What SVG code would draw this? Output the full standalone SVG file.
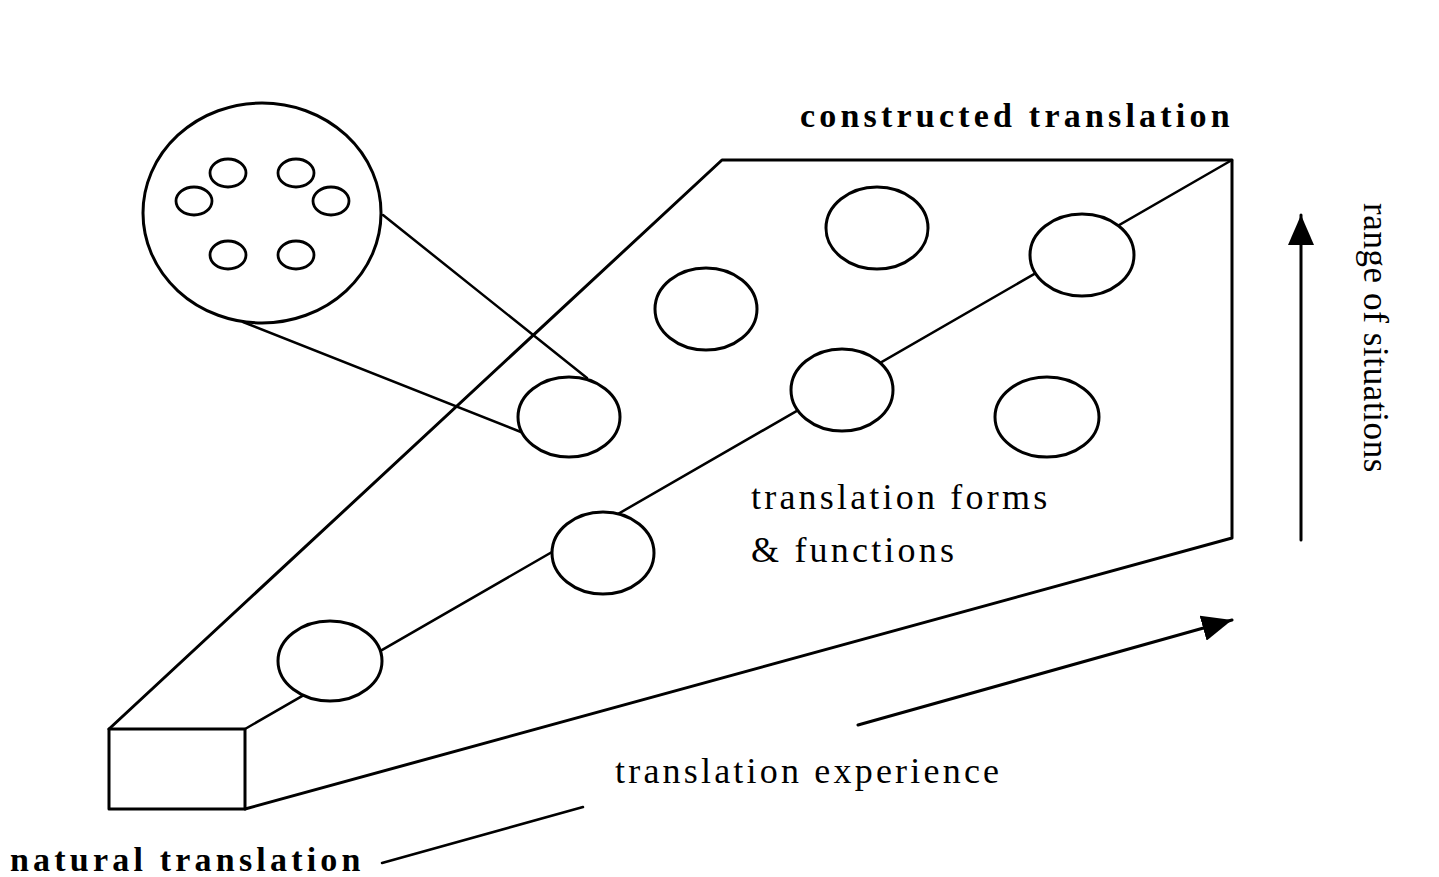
<svg xmlns="http://www.w3.org/2000/svg" width="1439" height="877" viewBox="0 0 1439 877">
  <style>
    .ln { fill: none; stroke: #000; stroke-width: 3; stroke-linecap: round; stroke-linejoin: round; }
    .thin { fill: none; stroke: #000; stroke-width: 2.5; stroke-linecap: round; }
    .node { fill: #fff; stroke: #000; stroke-width: 3; }
    .dot { fill: #fff; stroke: #000; stroke-width: 2.8; }
    .bold { font-family: "Liberation Serif", "Times New Roman", serif; font-weight: bold; font-size: 34px; letter-spacing: 4.2px; fill: #000; }
    .reg { font-family: "Liberation Serif", "Times New Roman", serif; font-size: 36px; letter-spacing: 3.2px; fill: #000; }
    .vert { font-family: "Liberation Serif", "Times New Roman", serif; font-size: 35px; letter-spacing: 0.6px; fill: #000; }
  </style>
  <defs>
    <marker id="arrow" viewBox="0 0 30 26" refX="30" refY="13" markerWidth="30" markerHeight="26" markerUnits="userSpaceOnUse" orient="auto">
      <path d="M0,0 L30,13 L0,26 Z" fill="#000"/>
    </marker>
  </defs>
  <rect width="1439" height="877" fill="#fff"/>

  <g id="block">
    <rect x="109" y="729" width="136" height="80" class="ln"/>
    <polyline points="109,729 722,160 1232,160 1232,538 245,809" class="ln"/>
  </g>

  <g id="connectors">
    <line x1="245" y1="729" x2="1232" y2="160" class="thin"/>
    <line x1="383" y1="215" x2="587" y2="378" class="thin"/>
    <line x1="243" y1="322" x2="521" y2="432" class="thin"/>
    <line x1="1301" y1="540" x2="1301" y2="215" class="ln" marker-end="url(#arrow)"/>
    <line x1="858" y1="725" x2="1232" y2="620" class="ln" marker-end="url(#arrow)"/>
    <line x1="382" y1="863" x2="583" y2="807" class="thin"/>
  </g>

  <g id="node-magnified">
    <ellipse cx="262" cy="213" rx="119" ry="110" class="node"/>
    <ellipse cx="228" cy="173" rx="18" ry="14" class="dot"/>
    <ellipse cx="296" cy="173" rx="18" ry="14" class="dot"/>
    <ellipse cx="194" cy="201" rx="18" ry="14" class="dot"/>
    <ellipse cx="331" cy="201" rx="18" ry="14" class="dot"/>
    <ellipse cx="228" cy="255" rx="18" ry="14" class="dot"/>
    <ellipse cx="296" cy="255" rx="18" ry="14" class="dot"/>
  </g>

  <g id="node-1"><ellipse cx="330" cy="661" rx="52" ry="40" class="node"/></g>
  <g id="node-2"><ellipse cx="603" cy="553" rx="51" ry="41" class="node"/></g>
  <g id="node-3"><ellipse cx="569" cy="417" rx="51" ry="40" class="node"/></g>
  <g id="node-4"><ellipse cx="706" cy="309" rx="51" ry="41" class="node"/></g>
  <g id="node-5"><ellipse cx="842" cy="390" rx="51" ry="41" class="node"/></g>
  <g id="node-6"><ellipse cx="877" cy="228" rx="51" ry="41" class="node"/></g>
  <g id="node-7"><ellipse cx="1047" cy="417" rx="52" ry="40" class="node"/></g>
  <g id="node-8"><ellipse cx="1082" cy="255" rx="52" ry="41" class="node"/></g>

  <g id="labels">
    <text x="800" y="127" class="bold">constructed translation</text>
    <text x="10" y="871" class="bold">natural translation</text>
    <text x="615" y="783" class="reg">translation experience</text>
    <text x="751" y="509" class="reg">translation forms</text>
    <text x="751" y="562" class="reg">&amp; functions</text>
    <text transform="translate(1364,203) rotate(90)" class="vert">range of situations</text>
  </g>
</svg>
